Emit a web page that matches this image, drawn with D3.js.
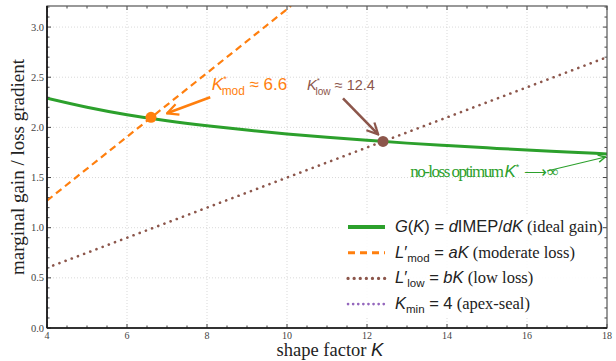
<!DOCTYPE html>
<html>
<head>
<meta charset="utf-8">
<script src="https://cdn.jsdelivr.net/npm/d3@7"></script>
<style>
  body { margin: 0; background: #fff; }
  svg { display: block; }
  .serif { font-family: "Liberation Serif", "Times New Roman", serif; }
  .sans { font-family: "Liberation Sans", Arial, sans-serif; }
</style>
</head>
<body>
<svg id="chart"></svg>
<script>

// ideal gain curve G(K)
const gK   = [4, 5, 6, 7, 8, 9, 10, 11, 12, 13, 14, 15, 16, 17, 18];
const gVal = [2.29, 2.20, 2.125, 2.066, 2.016, 1.973, 1.935, 1.901, 1.871, 1.843, 1.819, 1.796, 1.774, 1.755, 1.735];

// moderate loss line (leaves the top of the frame near K = 10)
const modK   = [4, 10.1];
const modVal = [1.27, 3.21];

// low loss line
const lowK   = [4, 18];
const lowVal = [0.6, 2.7];

const kMin = 4;

const optimaK   = [6.6, 12.4];
const optimaVal = [2.1, 1.86];

const xTicks = [4, 6, 8, 10, 12, 14, 16, 18];
const yTicks = [0, 0.5, 1.0, 1.5, 2.0, 2.5, 3.0];

const width = 616;
const height = 361;
const margin = { top: 6, right: 9, bottom: 33, left: 47 };
const usableArea = {
  top: margin.top,
  left: margin.left,
  right: width - margin.right,
  bottom: height - margin.bottom,
};

const green = '#2ca02c';
const orange = '#ff7f0e';
const brown = '#8c564b';
const purple = '#9467bd';

const svg = d3.select('#chart')
  .attr('width', width)
  .attr('height', height);

const xScale = d3.scaleLinear().domain([4, 18]).range([usableArea.left, usableArea.right]);
const yScale = d3.scaleLinear().domain([0, 3.21]).range([usableArea.bottom, usableArea.top]);

const defs = svg.append('defs');
defs.append('clipPath').attr('id', 'plot-clip')
  .append('rect')
  .attr('x', usableArea.left).attr('y', usableArea.top)
  .attr('width', usableArea.right - usableArea.left)
  .attr('height', usableArea.bottom - usableArea.top);

function arrowMarker(id, color, size) {
  defs.append('marker')
    .attr('id', id)
    .attr('viewBox', '0 0 10 10')
    .attr('refX', 9).attr('refY', 5)
    .attr('markerWidth', size).attr('markerHeight', size)
    .attr('markerUnits', 'userSpaceOnUse')
    .attr('orient', 'auto')
    .append('path')
    .attr('d', 'M1,1 L9,5 L1,9')
    .attr('fill', 'none')
    .attr('stroke', color)
    .attr('stroke-width', 1.6)
    .attr('stroke-linejoin', 'miter');
}
arrowMarker('arr-orange', orange, 14);
arrowMarker('arr-brown', brown, 14);
arrowMarker('arr-green', green, 9);

// gridlines
const grid = svg.append('g').attr('class', 'grid');
grid.selectAll('line.gx')
  .data(xTicks.slice(1, -1))
  .join('line')
  .attr('x1', d => xScale(d)).attr('x2', d => xScale(d))
  .attr('y1', usableArea.top).attr('y2', usableArea.bottom)
  .attr('stroke', '#cfcfcf').attr('stroke-width', 0.8)
  .attr('stroke-dasharray', '1,2');
grid.selectAll('line.gy')
  .data(yTicks.slice(1))
  .join('line')
  .attr('x1', usableArea.left).attr('x2', usableArea.right)
  .attr('y1', d => yScale(d)).attr('y2', d => yScale(d))
  .attr('stroke', '#cfcfcf').attr('stroke-width', 0.8)
  .attr('stroke-dasharray', '1,2');

// curves
const plot = svg.append('g').attr('clip-path', 'url(#plot-clip)');
const line = d3.line().x(d => xScale(d[0])).y(d => yScale(d[1]));

plot.append('path')
  .datum(d3.zip(lowK, lowVal))
  .attr('d', line)
  .attr('fill', 'none').attr('stroke', brown)
  .attr('stroke-width', 2.6).attr('stroke-dasharray', '0.1,6.5')
  .attr('stroke-linecap', 'round');

plot.append('path')
  .datum(d3.zip(modK, modVal))
  .attr('d', line)
  .attr('fill', 'none').attr('stroke', orange)
  .attr('stroke-width', 2.2).attr('stroke-dasharray', '7,4.5');

plot.append('path')
  .datum(d3.zip(gK, gVal))
  .attr('d', line.curve(d3.curveMonotoneX))
  .attr('fill', 'none').attr('stroke', green)
  .attr('stroke-width', 3);

plot.append('line')
  .attr('x1', xScale(kMin)).attr('x2', xScale(kMin))
  .attr('y1', usableArea.top).attr('y2', usableArea.bottom)
  .attr('stroke', purple).attr('stroke-width', 2.2)
  .attr('stroke-dasharray', '0.1,5').attr('stroke-linecap', 'round');

// optimum points
svg.selectAll('circle.opt')
  .data(d3.zip(optimaK, optimaVal))
  .join('circle')
  .attr('cx', d => xScale(d[0]))
  .attr('cy', d => yScale(d[1]))
  .attr('r', 5.5)
  .attr('fill', (d, i) => i === 0 ? orange : brown);

// frame and ticks
const frame = svg.append('g');
function ticksAlong(values, len, side) {
  frame.append('g').selectAll('line')
    .data(values)
    .join('line')
    .each(function (d) {
      const sel = d3.select(this);
      if (side === 'bottom' || side === 'top') {
        const y0 = side === 'bottom' ? usableArea.bottom : usableArea.top;
        const dir = side === 'bottom' ? -1 : 1;
        sel.attr('x1', xScale(d)).attr('x2', xScale(d))
          .attr('y1', y0).attr('y2', y0 + dir * len);
      } else {
        const x0 = side === 'left' ? usableArea.left : usableArea.right;
        const dir = side === 'left' ? 1 : -1;
        sel.attr('y1', yScale(d)).attr('y2', yScale(d))
          .attr('x1', x0).attr('x2', x0 + dir * len);
      }
    })
    .attr('stroke', '#444').attr('stroke-width', 1);
}
const xMinor = d3.range(4, 18.01, 0.5).filter(v => v % 2 !== 0);
const yMinor = d3.range(0, 3.21, 0.1).map(v => +v.toFixed(1)).filter(v => !yTicks.includes(v));
['bottom', 'top'].forEach(s => { ticksAlong(xTicks, 4, s); ticksAlong(xMinor, 2.5, s); });
['left', 'right'].forEach(s => { ticksAlong(yTicks, 4, s); ticksAlong(yMinor, 2.5, s); });

frame.append('rect')
  .attr('x', usableArea.left).attr('y', usableArea.top)
  .attr('width', usableArea.right - usableArea.left)
  .attr('height', usableArea.bottom - usableArea.top)
  .attr('fill', 'none').attr('stroke', '#555').attr('stroke-width', 1.2);
frame.append('line')
  .attr('x1', usableArea.left).attr('x2', usableArea.right)
  .attr('y1', usableArea.bottom).attr('y2', usableArea.bottom)
  .attr('stroke', '#111').attr('stroke-width', 1.6);
frame.append('line')
  .attr('x1', usableArea.left).attr('x2', usableArea.left)
  .attr('y1', usableArea.top).attr('y2', usableArea.bottom)
  .attr('stroke', '#111').attr('stroke-width', 1.6);

// tick labels
svg.append('g').selectAll('text')
  .data(xTicks)
  .join('text')
  .attr('class', 'serif')
  .attr('x', d => xScale(d))
  .attr('y', usableArea.bottom + 11)
  .attr('text-anchor', 'middle')
  .attr('font-size', 10)
  .attr('fill', '#444')
  .text(d => d);

svg.append('g').selectAll('text')
  .data(yTicks)
  .join('text')
  .attr('class', 'serif')
  .attr('x', usableArea.left - 3)
  .attr('y', d => yScale(d) + 3.5)
  .attr('text-anchor', 'end')
  .attr('font-size', 10.5)
  .attr('fill', '#444')
  .text(d => d.toFixed(1));

// axis titles
const xt = svg.append('text')
  .attr('x', (usableArea.left + usableArea.right) / 2 + 3)
  .attr('y', height - 5)
  .attr('text-anchor', 'middle')
  .attr('font-size', 18.5)
  .attr('fill', '#222');
xt.append('tspan').attr('class', 'serif').text('shape factor ');
xt.append('tspan').attr('class', 'sans').attr('font-style', 'italic').text('K');

svg.append('text')
  .attr('class', 'serif')
  .attr('transform', `translate(24, ${(usableArea.top + usableArea.bottom) / 2}) rotate(-90)`)
  .attr('text-anchor', 'middle')
  .attr('font-size', 19)
  .attr('fill', '#222')
  .text('marginal gain / loss gradient');

// annotations (positions in data units)
function arrow(from, to, color, marker, w) {
  svg.append('line')
    .attr('x1', xScale(from[0])).attr('y1', yScale(from[1]))
    .attr('x2', xScale(to[0])).attr('y2', yScale(to[1]))
    .attr('stroke', color).attr('stroke-width', w)
    .attr('marker-end', `url(#${marker})`);
}

function starLabel(at, sub, value, color, size) {
  const t = svg.append('text')
    .attr('class', 'sans')
    .attr('x', xScale(at[0])).attr('y', yScale(at[1]))
    .attr('font-size', size)
    .attr('fill', color);
  t.append('tspan').attr('font-style', 'italic').text('K');
  t.append('tspan').attr('font-size', size * 0.55).attr('dy', -size * 0.5).text('*');
  t.append('tspan').attr('font-size', size * 0.7).attr('dx', -size * 0.3).attr('dy', size * 0.8).text(sub);
  t.append('tspan').attr('dy', -size * 0.3).text(' ≈ ' + value);
}

starLabel([8.12, 2.37], 'mod', optimaK[0], orange, 17);
arrow([8.08, 2.30], [7.0, 2.14], orange, 'arr-orange', 2.6);

starLabel([10.5, 2.37], 'low', optimaK[1], brown, 14.5);
arrow([11.4, 2.29], [12.28, 1.93], brown, 'arr-brown', 2.6);

const nl = svg.append('text')
  .attr('x', xScale(13.08)).attr('y', yScale(1.505))
  .attr('font-size', 17)
  .attr('fill', green);
nl.append('tspan').attr('class', 'serif').attr('letter-spacing', -1.5).text('no-loss optimum');
nl.append('tspan').attr('class', 'sans').attr('font-style', 'italic').attr('dx', 2).text('K');
nl.append('tspan').attr('class', 'sans').attr('font-size', 9).attr('dy', -7).text('*');
nl.append('tspan').attr('class', 'serif').attr('font-size', 16).attr('dy', 7).attr('dx', 5).text('⟶∞');
arrow([16.5, 1.565], [17.96, 1.705], green, 'arr-green', 1.2);

// legend
const legendRows = [
  { color: green, dash: null, w: 4, cap: 'butt' },
  { color: orange, dash: '7,5', w: 3, cap: 'butt' },
  { color: brown, dash: '0.1,6', w: 3.2, cap: 'round' },
  { color: purple, dash: '0.1,5', w: 2.6, cap: 'round' },
];
const legend = svg.append('g').attr('transform', 'translate(340, 214)');
legend.append('rect')
  .attr('x', 0).attr('y', 0).attr('width', 262).attr('height', 103)
  .attr('fill', '#fff').attr('opacity', 0.9);

const rowY = i => 13 + i * 25.7;
legend.selectAll('line.sample')
  .data(legendRows)
  .join('line')
  .attr('x1', 8).attr('x2', 45)
  .attr('y1', (d, i) => rowY(i)).attr('y2', (d, i) => rowY(i))
  .attr('stroke', d => d.color)
  .attr('stroke-width', d => d.w)
  .attr('stroke-dasharray', d => d.dash)
  .attr('stroke-linecap', d => d.cap);

const fs = 16.5;
function legendText(i) {
  return legend.append('text')
    .attr('x', 55).attr('y', rowY(i) + 5)
    .attr('font-size', fs).attr('fill', '#222');
}
function part(t, txt, opt = {}) {
  const s = t.append('tspan').attr('class', opt.serif ? 'serif' : 'sans').text(txt);
  if (opt.italic) s.attr('font-style', 'italic');
  if (opt.size) s.attr('font-size', opt.size);
  if (opt.dy) s.attr('dy', opt.dy);
  if (opt.dx) s.attr('dx', opt.dx);
  return s;
}
const serifSize = 16.5;

let t = legendText(0);
part(t, 'G', { italic: true }); part(t, '('); part(t, 'K', { italic: true }); part(t, ') = ');
part(t, 'd', { italic: true }); part(t, 'IMEP/'); part(t, 'dK', { italic: true });
part(t, ' (ideal gain)', { serif: true, size: serifSize });

t = legendText(1);
part(t, 'L', { italic: true }); part(t, '′');
part(t, 'mod', { size: 11.5, dy: 4 }); part(t, ' = ', { dy: -4 }); part(t, 'aK', { italic: true });
part(t, ' (moderate loss)', { serif: true, size: serifSize });

t = legendText(2);
part(t, 'L', { italic: true }); part(t, '′');
part(t, 'low', { size: 11.5, dy: 4 }); part(t, ' = ', { dy: -4 }); part(t, 'bK', { italic: true });
part(t, ' (low loss)', { serif: true, size: serifSize });

t = legendText(3);
part(t, 'K', { italic: true });
part(t, 'min', { size: 11.5, dy: 4 }); part(t, ' = ' + kMin, { dy: -4 });
part(t, ' (apex-seal)', { serif: true, size: serifSize });

</script>
</body>
</html>
